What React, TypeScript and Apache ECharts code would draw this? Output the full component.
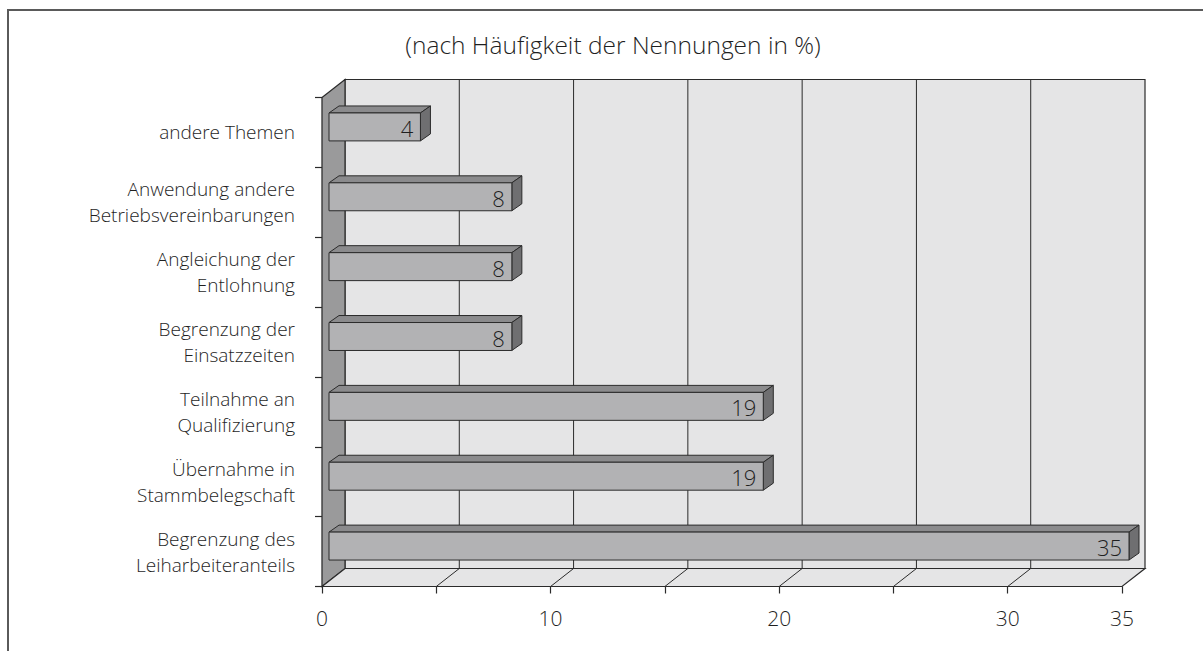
import React, { useEffect, useRef } from "react";
import * as echarts from "echarts";

const categories: string[] = [
  "andere Themen",
  "Anwendung andere\nBetriebsvereinbarungen",
  "Angleichung der\nEntlohnung",
  "Begrenzung der\nEinsatzzeiten",
  "Teilnahme an\nQualifizierung",
  "Übernahme in\nStammbelegschaft",
  "Begrenzung des\nLeiharbeiteranteils",
];
const values: number[] = [4, 8, 8, 8, 19, 19, 35];
const xTicks: number[] = [0, 5, 10, 15, 20, 25, 30, 35];
const xLabelsShown: number[] = [0, 10, 20, 30, 35];
const titleText = "(nach Häufigkeit der Nennungen in %)";

const FONT = "'Open Sans', 'Noto Sans', sans-serif";
const DEPTH_X = 23;
const DEPTH_Y = -18;
const BAR_DX = 10;
const BAR_DY = -7;
const BAR_OFF_X = 7;
const BAR_OFF_Y = -5.5;
const STROKE = "#2b2b2b";
const TEXT = "#1f1f1f";

export default function App() {
  const ref = useRef<HTMLDivElement>(null);
  useEffect(() => {
    if (!ref.current) return;
    const chart = echarts.init(ref.current, undefined, { renderer: "svg" });
    const xMin = xTicks[0];
    const xMax = xTicks[xTicks.length - 1];

    const wallsRender = (params: any, api: any) => {
      const band = api.size([0, 1])[1];
      const x0 = api.coord([xMin, 0])[0];
      const xE = api.coord([xMax, 0])[0];
      const yT = api.coord([xMin, 0])[1] - band / 2;
      const yB = api.coord([xMin, categories.length - 1])[1] + band / 2;
      const children: any[] = [];
      children.push({
        type: "rect",
        shape: { x: x0 + DEPTH_X, y: yT + DEPTH_Y, width: xE - x0, height: yB - yT },
        style: { fill: "#e5e5e6", stroke: STROKE, lineWidth: 1.2 },
      });
      xTicks.slice(1, -1).forEach((t) => {
        const x = api.coord([t, 0])[0] + DEPTH_X;
        children.push({
          type: "line",
          shape: { x1: x, y1: yT + DEPTH_Y, x2: x, y2: yB + DEPTH_Y },
          style: { stroke: STROKE, lineWidth: 1 },
        });
      });
      children.push({
        type: "polygon",
        shape: {
          points: [
            [x0, yT],
            [x0 + DEPTH_X, yT + DEPTH_Y],
            [x0 + DEPTH_X, yB + DEPTH_Y],
            [x0, yB],
          ],
        },
        style: { fill: "#9a9a9b", stroke: STROKE, lineWidth: 1.2 },
      });
      children.push({
        type: "polygon",
        shape: {
          points: [
            [x0, yB],
            [x0 + DEPTH_X, yB + DEPTH_Y],
            [xE + DEPTH_X, yB + DEPTH_Y],
            [xE, yB],
          ],
        },
        style: { fill: "#e5e5e6", stroke: STROKE, lineWidth: 1.2 },
      });
      xTicks.slice(1, -1).forEach((t) => {
        const x = api.coord([t, 0])[0];
        children.push({
          type: "line",
          shape: { x1: x, y1: yB, x2: x + DEPTH_X, y2: yB + DEPTH_Y },
          style: { stroke: STROKE, lineWidth: 1 },
        });
      });
      return { type: "group", children };
    };

    const barRender = (params: any, api: any) => {
      const idx = api.value(1);
      const val = api.value(0);
      const band = api.size([0, 1])[1];
      const [xA, yc] = api.coord([xMin, idx]);
      const xR = api.coord([val, idx])[0];
      const h = band * 0.4;
      const xl = xA + BAR_OFF_X;
      const xr = xR + BAR_OFF_X;
      const cy = yc + BAR_OFF_Y;
      const yt = cy - h / 2;
      const yb = cy + h / 2;
      return {
        type: "group",
        children: [
          {
            type: "polygon",
            shape: { points: [[xl, yt], [xl + BAR_DX, yt + BAR_DY], [xr + BAR_DX, yt + BAR_DY], [xr, yt]] },
            style: { fill: "#8b8b8d", stroke: STROKE, lineWidth: 1 },
          },
          {
            type: "polygon",
            shape: { points: [[xr, yt], [xr + BAR_DX, yt + BAR_DY], [xr + BAR_DX, yb + BAR_DY], [xr, yb]] },
            style: { fill: "#6f6f71", stroke: STROKE, lineWidth: 1 },
          },
          {
            type: "rect",
            shape: { x: xl, y: yt, width: xr - xl, height: h },
            style: { fill: "#b2b2b4", stroke: STROKE, lineWidth: 1 },
          },
          {
            type: "text",
            style: {
              text: String(val),
              x: xr - 7,
              y: cy + 1,
              align: "right",
              verticalAlign: "middle",
              fontSize: 22,
              fontWeight: 300,
              fontFamily: FONT,
              fill: TEXT,
            },
          },
        ],
      };
    };

    chart.setOption({
      animation: false,
      backgroundColor: "#ffffff",
      graphic: [
        {
          type: "polyline",
          shape: { points: [[8, 651], [8, 10], [1203, 10]] },
          style: { stroke: "#5a5a5a", lineWidth: 2, fill: "none" },
        },
        {
          type: "text",
          x: 613,
          y: 44,
          style: {
            text: titleText,
            align: "center",
            verticalAlign: "middle",
            fontSize: 24.5,
            fontWeight: 300,
            fontFamily: FONT,
            fill: TEXT,
          },
        },
      ],
      grid: { left: 322, right: 81, top: 97.5, bottom: 64.5, containLabel: false },
      xAxis: {
        type: "value",
        min: xMin,
        max: xMax,
        interval: 5,
        splitLine: { show: false },
        axisLine: { show: true, lineStyle: { color: STROKE, width: 1.2 } },
        axisTick: { show: true, length: 7, lineStyle: { color: STROKE, width: 1.2 } },
        axisLabel: {
          margin: 21,
          fontSize: 21,
          fontWeight: 300,
          fontFamily: FONT,
          color: TEXT,
          formatter: (v: number) => (xLabelsShown.indexOf(v) >= 0 ? String(v) : ""),
        },
      },
      yAxis: {
        type: "category",
        data: categories,
        inverse: true,
        axisLine: { show: true, lineStyle: { color: STROKE, width: 1.2 } },
        axisTick: { show: true, length: 7, lineStyle: { color: STROKE, width: 1.2 } },
        axisLabel: {
          margin: 27,
          fontSize: 19,
          lineHeight: 26,
          fontWeight: 300,
          fontFamily: FONT,
          color: TEXT,
          align: "right",
        },
      },
      series: [
        {
          type: "custom",
          name: "walls",
          renderItem: wallsRender,
          data: [[0, 0]],
          encode: { x: 0, y: 1 },
          clip: false,
          z: 1,
          silent: true,
        },
        {
          type: "custom",
          name: "Nennungen",
          renderItem: barRender,
          data: values.map((v, i) => [v, i]),
          encode: { x: 0, y: 1 },
          clip: false,
          z: 3,
        },
      ],
    });
    return () => chart.dispose();
  }, []);
  return (
    <div
      ref={ref}
      style={{ position: "fixed", left: 0, top: 0, width: 1203, height: 651 }}
    />
  );
}
